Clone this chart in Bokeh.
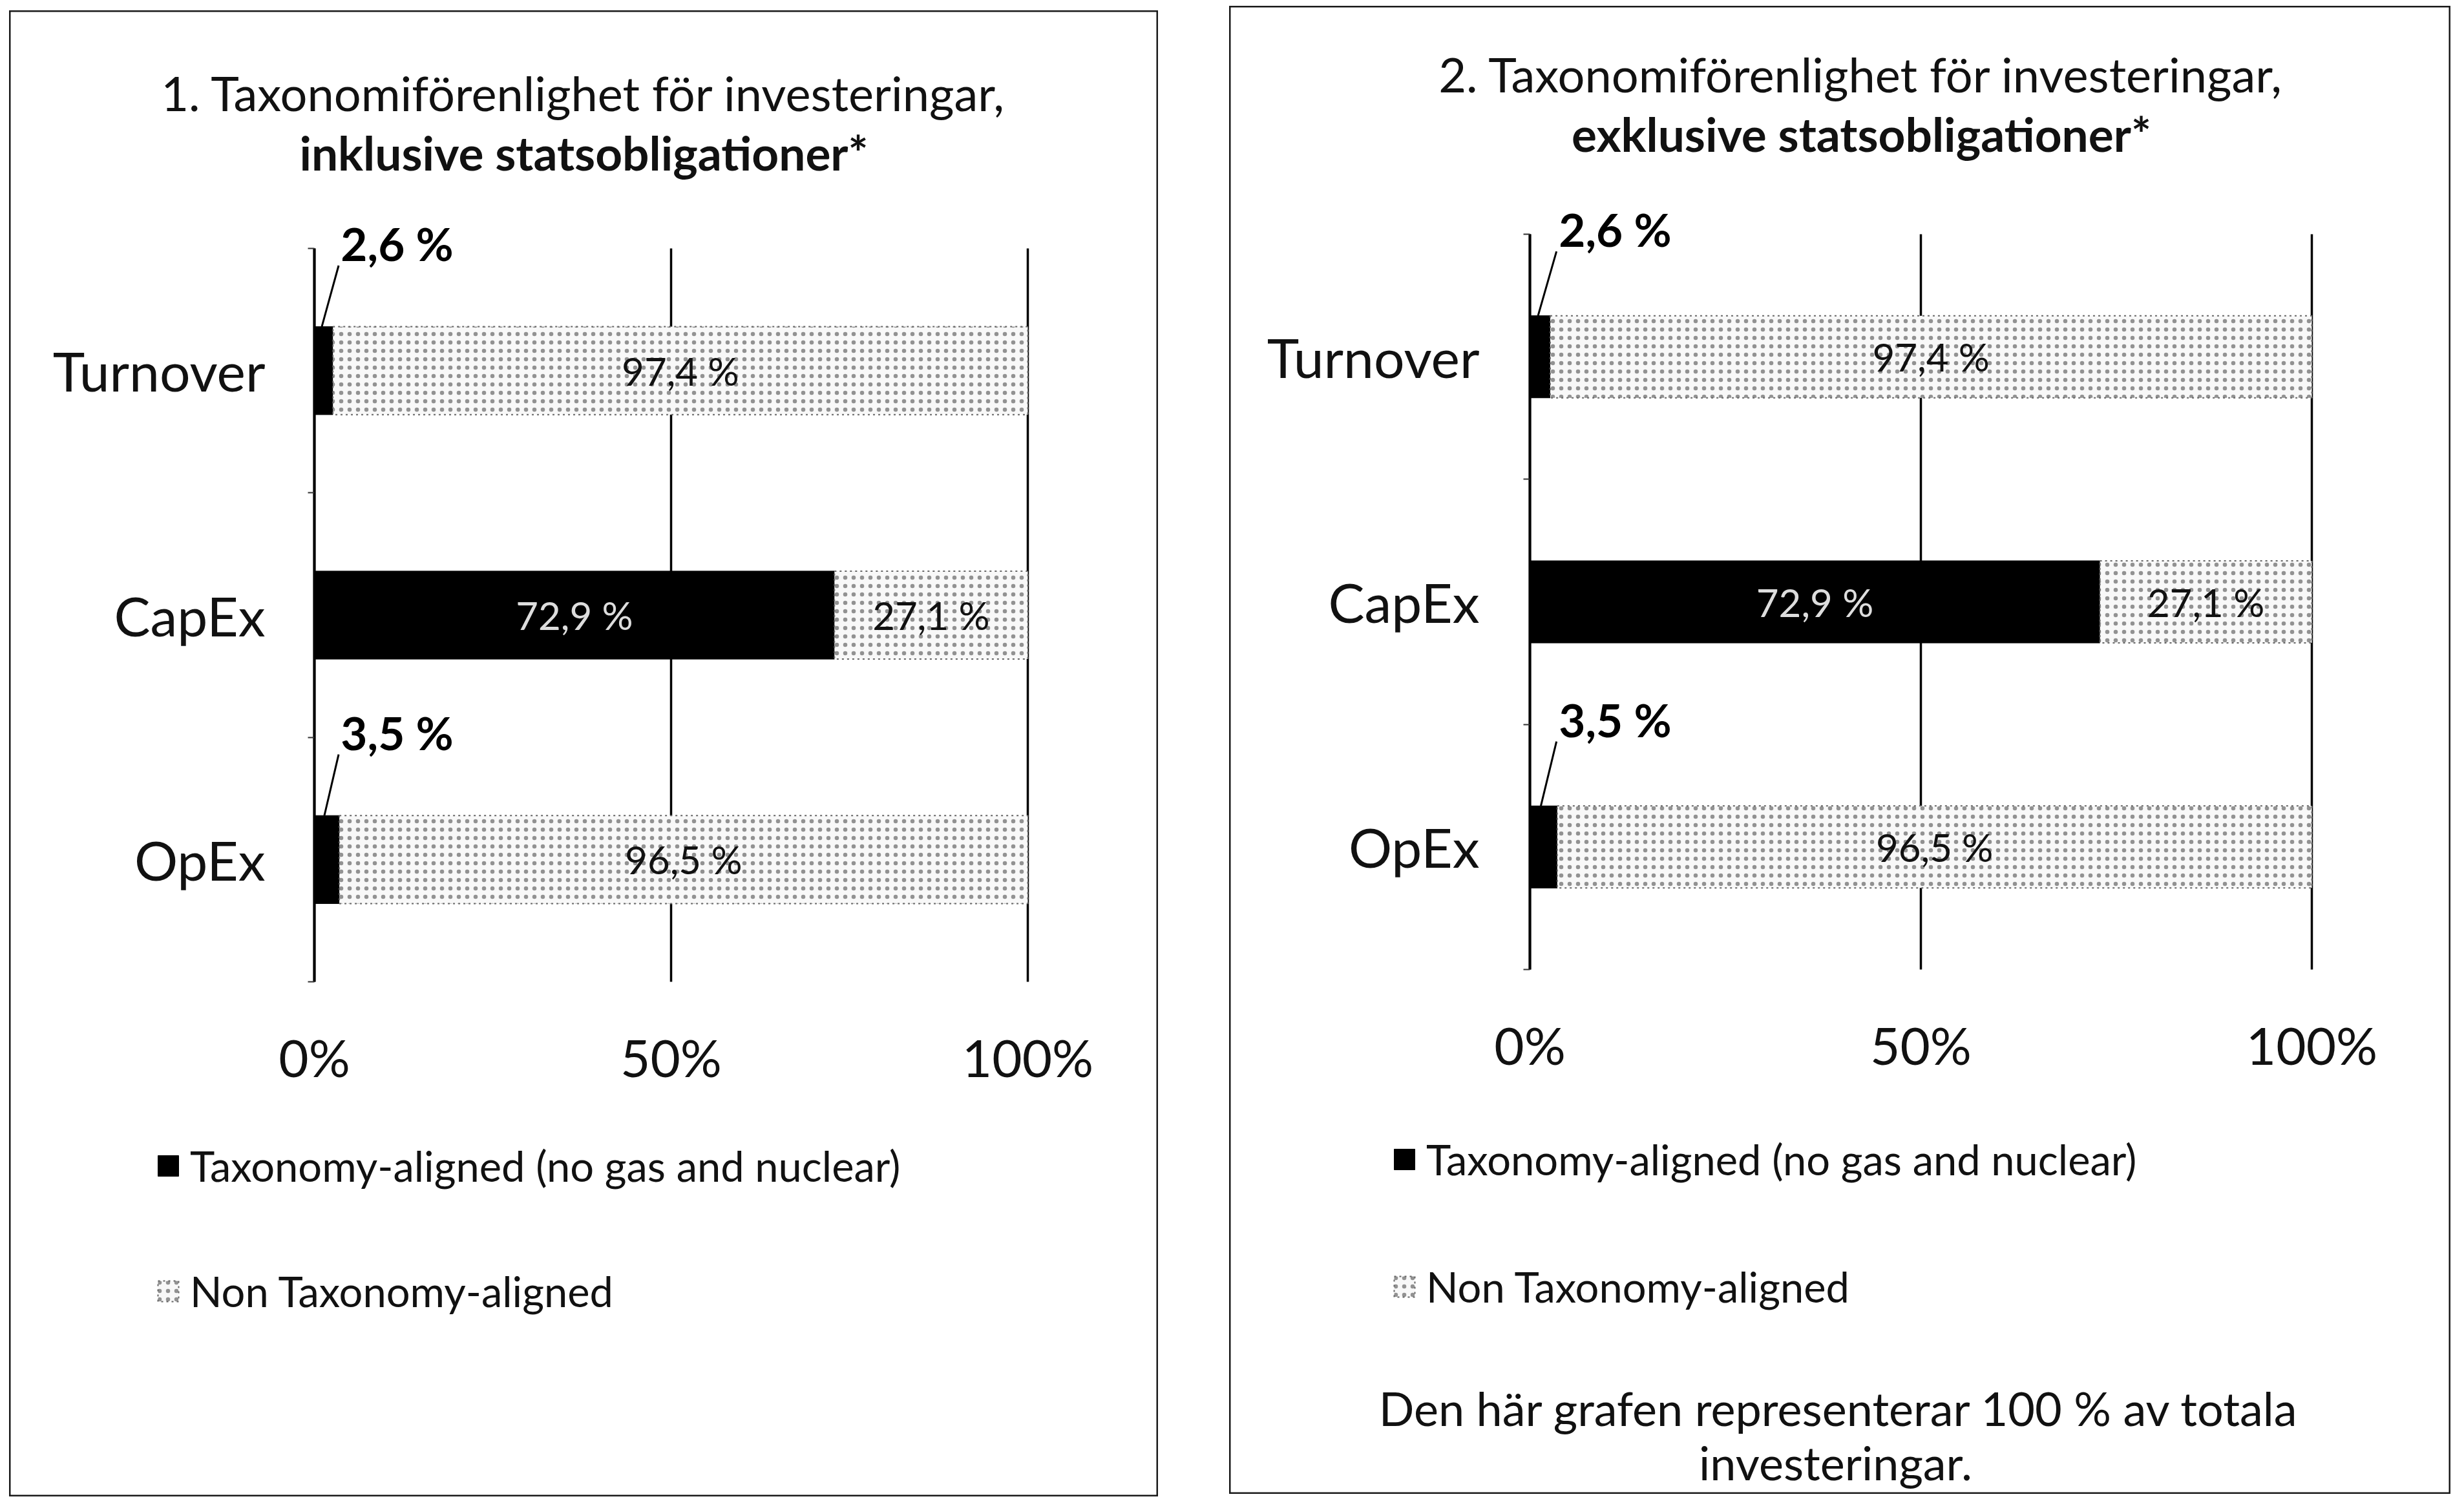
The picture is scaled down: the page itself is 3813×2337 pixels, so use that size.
from bokeh.plotting import figure
from bokeh.models import (ColumnDataSource, Range1d, FixedTicker, LabelSet,
                          Label, Legend, LegendItem, Spacer)
from bokeh.layouts import row, column
from bokeh.core.properties import value
from bokeh.embed import file_html
from bokeh.resources import INLINE

# ---------------- data ----------------
categories = ["Turnover", "CapEx", "OpEx"]
aligned_incl = [2.6, 72.9, 3.5]
non_aligned_incl = [97.4, 27.1, 96.5]
aligned_excl = [2.6, 72.9, 3.5]
non_aligned_excl = [97.4, 27.1, 96.5]
x_ticks = [0, 50, 100]
x_tick_labels = ["0%", "50%", "100%"]
titles_1 = ["1. Taxonomiförenlighet för investeringar,", "inklusive statsobligationer*"]
titles_2 = ["2. Taxonomiförenlighet för investeringar,", "exklusive statsobligationer*"]
legend_labels = ["Taxonomy-aligned (no gas and nuclear)", "Non Taxonomy-aligned"]
note_2 = ["Den här grafen representerar 100 % av totala", "investeringar."]

FONT = "Lato"
TXT = "#111111"


def pct(v):
    return f"{v:.1f}".replace(".", ",") + " %"


def make_panel(title_lines, aligned, non_aligned, g, note_lines=None):
    n = len(categories)
    # pixel geometry of the bar area inside the panel -> data ranges
    fx0, fx1, fy0, fy1 = g["frame"]          # bar-area left, right, top, bottom (panel px)
    ux = (fx1 - fx0) / 100.0
    uy = (fy1 - fy0) / n
    x_range = Range1d(-fx0 / ux, (g["w"] - fx0) / ux)
    y_range = Range1d(-(g["h"] - fy1) / uy, n + fy0 / uy)

    p = figure(width=g["w"], height=g["h"], x_range=x_range, y_range=y_range,
               title=None, toolbar_location=None, output_backend="svg",
               min_border=0, min_border_left=0, min_border_right=0,
               min_border_top=0, min_border_bottom=0,
               outline_line_color="#1a1a1a", outline_line_width=4,
               background_fill_color="white", border_fill_color="white")

    ypos = [n - i - 0.5 for i in range(n)]
    na_right = [a + v for a, v in zip(aligned, non_aligned)]
    src = ColumnDataSource(dict(
        y=ypos,
        zero=[0] * n,
        a=aligned,
        na_left=aligned,
        na_right=na_right,
        na_mid=[(a + r) / 2 for a, r in zip(aligned, na_right)],
        na_lab=[pct(v) for v in non_aligned],
    ))

    # grid lines (only over the bar area)
    try:
        p.xgrid.cross_bounds = (0, n)
        p.xgrid.ticker = FixedTicker(ticks=x_ticks)
        p.xgrid.grid_line_color = "black"
        p.xgrid.grid_line_width = 3.5
    except AttributeError:
        p.xgrid.visible = False
        p.segment(x0=x_ticks, x1=x_ticks, y0=[0] * len(x_ticks), y1=[n] * len(x_ticks),
                  line_color="black", line_width=3.5, level="underlay")
    p.ygrid.visible = False

    r_a = p.hbar(y="y", left="zero", right="a", height=g["bh"], source=src,
                 fill_color="black", line_color="black")
    r_na = p.hbar(y="y", left="na_left", right="na_right", height=g["bh"], source=src,
                  fill_color="#f8f8f8", hatch_pattern="dot", hatch_color="#707070",
                  hatch_scale=13, hatch_weight=2.2, hatch_alpha=0.75,
                  line_color="#666666", line_dash="3 5", line_width=2)

    p.add_layout(LabelSet(x="na_mid", y="y", text="na_lab", source=src,
                          text_font=value(FONT), text_font_size=g["fs_data"],
                          text_align="center", text_baseline="middle",
                          text_color=TXT))

    ins = [i for i, v in enumerate(aligned) if v >= 10]
    outs = [i for i, v in enumerate(aligned) if v < 10]
    src_in = ColumnDataSource(dict(
        y=[ypos[i] for i in ins],
        x=[aligned[i] / 2 for i in ins],
        lab=[pct(aligned[i]) for i in ins],
    ))
    p.add_layout(LabelSet(x="x", y="y", text="lab", source=src_in,
                          text_font=value(FONT), text_font_size=g["fs_data"],
                          text_align="center", text_baseline="middle",
                          text_color="#dddddd"))
    src_out = ColumnDataSource(dict(
        x0=[aligned[i] * 0.4 for i in outs],
        y0=[ypos[i] + g["bh"] / 2 for i in outs],
        x1=[g["lead_x"] for i in outs],
        y1=[ypos[i] + 0.43 for i in outs],
        lx=[g["lead_x"] + 0.3 for i in outs],
        ly=[ypos[i] + 0.52 for i in outs],
        lab=[pct(aligned[i]) for i in outs],
    ))
    p.segment(x0="x0", y0="y0", x1="x1", y1="y1", source=src_out,
              line_color="black", line_width=3)
    p.add_layout(LabelSet(x="lx", y="ly", text="lab", source=src_out,
                          text_font=value(FONT), text_font_style="bold",
                          text_font_size=g["fs_out"],
                          text_align="left", text_baseline="middle",
                          text_color="black"))

    # x axis drawn at the bottom of the bar area
    xa = p.xaxis[0]
    xa.fixed_location = 0
    xa.bounds = (0, 100)
    xa.ticker = FixedTicker(ticks=x_ticks)
    xa.major_label_overrides = dict(zip(x_ticks, x_tick_labels))
    xa.axis_line_color = None
    xa.major_tick_line_color = None
    xa.minor_tick_line_color = None
    xa.major_label_standoff = g["xstand"]
    xa.major_label_text_font = FONT
    xa.major_label_text_font_size = g["fs_tick"]
    xa.major_label_text_color = TXT

    # y axis drawn at 0 %
    ya = p.yaxis[0]
    ya.fixed_location = 0
    ya.bounds = (0, n)
    ya.ticker = FixedTicker(ticks=ypos, minor_ticks=list(range(n + 1)))
    ya.major_label_overrides = dict(zip(ypos, categories))
    ya.axis_line_color = "black"
    ya.axis_line_width = 4
    ya.major_tick_line_color = None
    ya.major_tick_out = 0
    ya.major_tick_in = 0
    ya.minor_tick_line_color = "#333333"
    ya.minor_tick_line_width = 2
    ya.minor_tick_out = 10
    ya.minor_tick_in = 0
    ya.major_label_standoff = g["ystand"]
    ya.major_label_text_font = FONT
    ya.major_label_text_font_size = g["fs_cat"]
    ya.major_label_text_color = TXT

    # titles
    tx, ty1, ty2 = g["title"]
    p.add_layout(Label(x=tx, y=ty1, x_units="screen", y_units="screen",
                       text=title_lines[0], text_font=FONT, text_font_size=g["fs_t1"],
                       text_align="center", text_baseline="middle", text_color=TXT))
    p.add_layout(Label(x=tx, y=ty2, x_units="screen", y_units="screen",
                       text=title_lines[1], text_font=FONT, text_font_size=g["fs_t2"],
                       text_font_style="bold",
                       text_align="center", text_baseline="middle", text_color=TXT))

    legend = Legend(items=[LegendItem(label=legend_labels[0], renderers=[r_a]),
                           LegendItem(label=legend_labels[1], renderers=[r_na])],
                    location=g["leg"], orientation="vertical",
                    glyph_width=40, glyph_height=40, label_height=86,
                    spacing=g["lsp"], padding=0, margin=0, label_standoff=14,
                    label_text_font=FONT, label_text_font_size=g["fs_leg"],
                    label_text_color=TXT,
                    border_line_color=None, background_fill_alpha=0)
    p.add_layout(legend)

    if note_lines:
        for ln, (nx, ny) in zip(note_lines, g["note"]):
            p.add_layout(Label(x=nx, y=ny, x_units="screen", y_units="screen",
                               text=ln, text_font=FONT, text_font_size=g["fs_note"],
                               text_align="center", text_baseline="middle",
                               text_color=TXT))
    return p


common = dict(fs_data="60px", fs_out="71px", fs_tick="80px", fs_cat="84px",
              fs_t1="74px", fs_t2="73px", fs_leg="65px", fs_note="72px")

# panel 1: placed at page x 22..1800, y 24..2324
g1 = dict(w=1778, h=2300, frame=(472, 1576, 368, 1503), bh=0.36,
          title=(889, 2173, 2081), leg=(226, 275), lsp=108,
          xstand=62, ystand=66, lead_x=3.4, **common)
# panel 2: placed at page x 1910..3800, y 17..2320
g2 = dict(w=1890, h=2303, frame=(465, 1675, 353, 1491), bh=0.335,
          title=(978, 2198, 2106), leg=(251, 278), lsp=111,
          xstand=62, ystand=68, lead_x=3.4,
          note=[(944, 134), (938, 50)], **common)

p1 = make_panel(titles_1, aligned_incl, non_aligned_incl, g1)
p2 = make_panel(titles_2, aligned_excl, non_aligned_excl, g2, note_2)

layout = row(Spacer(width=14), column(Spacer(height=16), p1),
             Spacer(width=110), column(Spacer(height=9), p2))

open("out.html", "w").write(file_html(layout, INLINE))
